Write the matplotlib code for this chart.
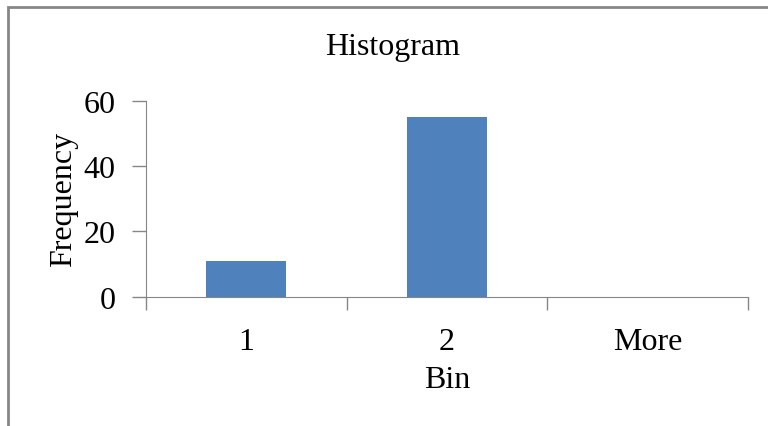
import matplotlib
matplotlib.use("Agg")
import matplotlib.pyplot as plt
from matplotlib.patches import Rectangle

# histogram counts per bin
bins = ["1", "2", "More"]
counts = [11, 55, 0]
yticks = [0, 20, 40, 60]

plt.rcParams["font.family"] = ["Liberation Serif", "DejaVu Serif"]

fig = plt.figure(figsize=(7.68, 4.27), dpi=100)
ax = fig.add_axes([0.190, 0.303, 0.784, 0.458])

ax.bar(range(len(bins)), counts, width=0.4, color="#4F81BD", zorder=3)
ax.set_xlim(-0.5, len(bins) - 0.5)
ax.set_ylim(0, 60)
ax.set_yticks(yticks)
ax.set_xticks(range(len(bins)))
ax.set_xticklabels(bins)

# excel style: ticks between categories on x
ax.set_xticks([i - 0.5 for i in range(len(bins) + 1)], minor=True)
ax.tick_params(axis="x", which="major", length=0, pad=22, labelsize=23)
ax.tick_params(axis="x", which="minor", length=9, color="#868686", width=1)
ax.tick_params(axis="y", length=10, color="#868686", width=1, pad=12, labelsize=23)

for s in ["top", "right"]:
    ax.spines[s].set_visible(False)
ax.spines["left"].set_color("#868686")
ax.spines["bottom"].set_color("#868686")

# title is centred on the whole chart area, not the plot
fig.text(393 / 768, 1 - 47 / 427, "Histogram", fontsize=23, ha="center", va="center")
ax.set_xlabel("Bin", fontsize=23, labelpad=6)
ax.set_ylabel("Frequency", fontsize=23, labelpad=4)

# chart area frame (runs off right/bottom)
fig.patches.append(Rectangle((8 / 768, -0.1), 1.2, 1 - 8 / 427 + 0.1,
                             transform=fig.transFigure, fill=False,
                             edgecolor="#868686", linewidth=2))

fig.savefig("out.png", dpi=100)
